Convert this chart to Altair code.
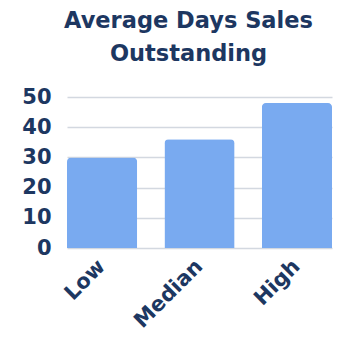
import altair as alt
import pandas as pd

categories = ["Low", "Median", "High"]
values = [30, 36, 48]

df = pd.DataFrame({"category": categories, "value": values})

navy = "#1d3761"
font = "DejaVu Sans"

chart = alt.Chart(df).mark_bar(
    color="#79aaf0", cornerRadiusTopLeft=4, cornerRadiusTopRight=4
).encode(
    x=alt.X("category:N", sort=categories, title=None,
            scale=alt.Scale(paddingInner=0.28, paddingOuter=0),
            axis=alt.Axis(labelAngle=-45, labelAlign="right", labelBaseline="middle",
                          labelFont=font, labelFontWeight="bold", labelFontSize=21,
                          labelColor=navy, ticks=False, domain=False, labelPadding=15)),
    y=alt.Y("value:Q", title=None,
            scale=alt.Scale(domain=[0, 50]),
            axis=alt.Axis(values=[0, 10, 20, 30, 40, 50], labelFont=font, labelFontWeight="bold",
                          labelFontSize=21, labelColor=navy, ticks=False, domain=False,
                          labelPadding=16, gridColor="#d3d8e0", gridWidth=1.5)),
).properties(
    width=265, height=151,
    padding={"left": 13, "top": 1, "right": 5, "bottom": 5},
    title=alt.TitleParams(["Average Days Sales", "Outstanding"], font=font, fontWeight="bold",
                          fontSize=22.5, color=navy, anchor="middle", lineHeight=33, offset=21,
                          dx=-11),
).configure_view(stroke=None)

chart.save("out.html", embed_options={"renderer": "svg", "actions": False})
